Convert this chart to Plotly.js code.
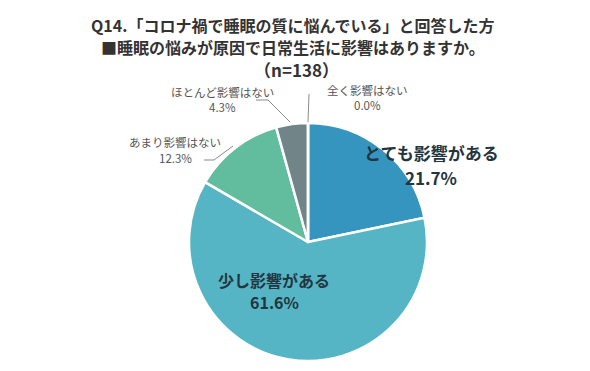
<!DOCTYPE html>
<html>
<head>
<meta charset="utf-8">
<script src="https://cdn.plot.ly/plotly-3.0.1.min.js"></script>
<style>html,body{margin:0;padding:0;background:#fff;}#chart{width:590px;height:371px;}</style>
</head>
<body>
<div id="chart"></div>
<script>
const titleLines = ['Q14.「コロナ禍で睡眠の質に悩んでいる」と回答した方', '■睡眠の悩みが原因で日常生活に影響はありますか。', '（n=138）'];
const categories = ['とても影響がある', '少し影響がある', 'あまり影響はない', 'ほとんど影響はない', '全く影響はない'];
const percents = [21.7, 61.6, 12.3, 4.3, 0.0];
const sliceColors = ['#3595bf', '#55b5c4', '#62bd9f', '#718487', '#9aa5a7'];

const W = 590, H = 371;
const px = x => x / W;
const py = y => 1 - y / H;
const FONT = '"Noto Sans CJK JP", "Noto Sans", sans-serif';

// label placement (pixel positions) : [x, yName, yPct, size]
const labelPos = [
  [431, 152, 177, 17],
  [274, 280, 302, 16],
  [175, 142, 158, 11.5],
  [222, 92, 107, 11.5],
  [367, 90, 105, 11.5]
];

const annotations = [];
titleLines.forEach((t, i) => {
  annotations.push({
    text: t, x: px(i === 2 ? 297 : 293), y: py([25, 47, 70][i]),
    xref: 'paper', yref: 'paper', xanchor: 'center', yanchor: 'middle',
    showarrow: false, font: {family: FONT, size: i === 2 ? 17 : 16, color: '#333333', weight: 'bold'}
  });
});
categories.forEach((c, i) => {
  const [x, y1, y2, s] = labelPos[i];
  const big = s > 14;
  const f = {family: FONT, size: s, color: big ? '#233540' : '#555555', weight: big ? 'bold' : 'normal'};
  annotations.push({
    text: c, x: px(x), y: py(y1), xref: 'paper', yref: 'paper',
    xanchor: 'center', yanchor: 'middle', showarrow: false, font: f
  });
  annotations.push({
    text: percents[i].toFixed(1) + '%', x: px(x), y: py(y2), xref: 'paper', yref: 'paper',
    xanchor: 'center', yanchor: 'middle', showarrow: false, font: f
  });
});

const leader = pts => ({
  type: 'path', xref: 'paper', yref: 'paper',
  path: pts.map((p, i) => (i ? 'L' : 'M') + px(p[0]) + ',' + py(p[1])).join(' '),
  line: {color: '#8a8a8a', width: 1}
});
const shapes = [
  leader([[204, 160], [214, 160], [233, 146]]),
  leader([[256, 100], [268, 100], [290, 122]]),
  leader([[309, 94], [308, 122]])
];

const data = [{
  type: 'pie',
  labels: categories,
  values: percents,
  sort: false,
  direction: 'clockwise',
  rotation: 0,
  textinfo: 'none',
  hoverinfo: 'label+percent',
  marker: {colors: sliceColors, line: {color: '#ffffff', width: 2.5}},
  domain: {x: [px(189), px(427)], y: [py(361), py(123)]},
  showlegend: false
}];

const layout = {
  width: W, height: H,
  margin: {l: 0, r: 0, t: 0, b: 0},
  paper_bgcolor: '#ffffff',
  showlegend: false,
  annotations: annotations,
  shapes: shapes
};

Plotly.newPlot('chart', data, layout, {displayModeBar: false, staticPlot: true});
</script>
</body>
</html>
